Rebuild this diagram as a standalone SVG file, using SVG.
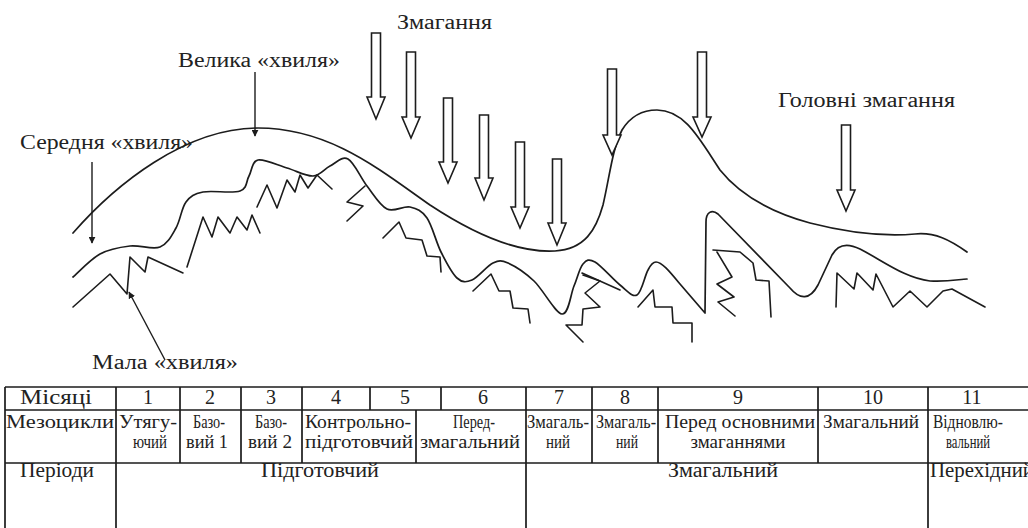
<svg xmlns="http://www.w3.org/2000/svg" width="1028" height="528" viewBox="0 0 1028 528">
<style>
.t{font-family:"Liberation Serif","DejaVu Serif",serif;fill:#222}
.lb{font-size:20px}
.r1{font-size:20px;text-anchor:middle}
.r2{font-size:19px;text-anchor:middle}
.r3{font-size:20px;text-anchor:middle}
.w{fill:none;stroke:#1c1c1c;stroke-width:1.7;stroke-linejoin:round;stroke-linecap:round}
.z{fill:none;stroke:#1c1c1c;stroke-width:1.6;stroke-linejoin:round;stroke-linecap:round}
.ba{fill:#fff;stroke:#1c1c1c;stroke-width:1.6;stroke-linejoin:miter}
.ln{fill:none;stroke:#1c1c1c;stroke-width:1.4}
.tb{fill:none;stroke:#1c1c1c;stroke-width:1.7}
</style>
<defs>
<marker id="ah" viewBox="0 0 10 10" refX="9" refY="5" markerWidth="7" markerHeight="7" markerUnits="userSpaceOnUse" orient="auto">
<path d="M0,0 L10,5 L0,10 Z" fill="#1c1c1c"/>
</marker>
</defs>
<rect width="1028" height="528" fill="#fff"/>

<g id="labels">
<text class="t lb" x="397" y="29" textLength="95" lengthAdjust="spacingAndGlyphs">Змагання</text>
<text class="t lb" x="178" y="67" textLength="162" lengthAdjust="spacingAndGlyphs">Велика «хвиля»</text>
<text class="t lb" x="20" y="149" textLength="173" lengthAdjust="spacingAndGlyphs">Середня «хвиля»</text>
<text class="t lb" x="778" y="107" textLength="177" lengthAdjust="spacingAndGlyphs">Головні змагання</text>
<text class="t lb" x="92" y="369" textLength="146" lengthAdjust="spacingAndGlyphs">Мала «хвиля»</text>
</g>

<g id="big-wave">
<path class="w" d="M73,233 C115,185 185,128 258,128 C330,128 380,170 430,205 C480,238 520,253 555,251 C585,249 596,230 603,205 C610,175 612,150 622,130 C630,117 642,110 657,110 C685,110 700,140 720,170 C740,195 770,212 810,223 C845,232 880,237 915,234 C935,232 950,240 967,252"/>
</g>

<g id="middle-wave">
<path class="w" d="M73,277 C77.5,273.2 90.5,259.2 100,254 C109.5,248.8 120,247.2 130,246 C140,244.8 152.3,250 160,247 C167.7,244 171.7,235.5 176,228 C180.3,220.5 181.5,208 186,202 C190.5,196 194,193.8 203,192 C212,190.2 232.3,193.7 240,191 C247.7,188.3 246,181.2 249,176 C252,170.8 251.7,161.3 258,160 C264.3,158.7 277.8,165.3 287,168 C296.2,170.7 305.8,176.3 313,176 C320.2,175.7 324.2,168.8 330,166 C335.8,163.2 341.8,155.7 348,159 C354.2,162.3 360.5,177.7 367,186 C373.5,194.3 379.8,205.5 387,209 C394.2,212.5 403.3,205.5 410,207 C416.7,208.5 421.8,210.5 427,218 C432.2,225.5 436,242 441,252 C446,262 451.8,273.3 457,278 C462.2,282.7 466,282.5 472,280 C478,277.5 487,265.8 493,263 C499,260.2 501.2,260 508,263 C514.8,266 525,272.5 534,281 C543,289.5 555.3,313.2 562,314 C568.7,314.8 570.5,294.3 574,286 C577.5,277.7 579.5,268 583,264 C586.5,260 588.8,258.5 595,262 C601.2,265.5 613,279.5 620,285 C627,290.5 632.3,297.5 637,295 C641.7,292.5 644.8,275.5 648,270 C651,264 653,262 656,262 C662,262 670,272 680,284 L705,313 L706,222 C706,212 712,209 718,214 L790,288 C800,300 810,300 818,285 L832,255 C838,244 848,243 860,249 C885,262 905,278 930,281 C950,282 960,279 967,279"/>
</g>

<g id="small-wave">
<polyline class="z" points="73,307 110,274 127,294 130,257 145,272 148,257 183,273"/>
<polyline class="z" points="187,267 203,217 212,237 218,217 230,233 237,217 247,230 252,215 260,233"/>
<polyline class="z" points="257,207 267,185 277,208 287,180 295,192 300,175 308,188 317,175 332,189"/>
<polyline class="z" points="365,186 347,202 363,206 347,221"/>
<polyline class="z" points="383,238 399,222 406,238 422,240 427,256 440,257 441,272"/>
<polyline class="z" points="473,291 491,274 499,291 510,291 513,308 528,309 530,323"/>
<polyline class="z" points="582,273 620,290"/>
<polyline class="z" points="583,275 600,281 585,293 600,307 583,309 582,325 566,325 583,342"/>
<polyline class="z" points="638,307 653,290 655,307 672,307 673,323 692,323 692,342"/>
<polyline class="z" points="713,250 740,252 753,263 756,280 769,281 771,317"/>
<polyline class="z" points="717,252 732,277 717,284 734,297 718,302 735,316"/>
<polyline class="z" points="836,307 837,273 854,289 857,273 873,290 876,274 893,307 910,291 927,307 943,291 952,289 985,307"/>
</g>

<g id="competition-arrows">
<path class="ba" d="M371.5,33 H380.5 V97 H385 L376,119 L367,97 H371.5 Z"/>
<path class="ba" d="M406.5,52 H415.5 V117 H420 L411,138 L402,117 H406.5 Z"/>
<path class="ba" d="M443.5,98 H452.5 V162 H457 L448,183 L439,162 H443.5 Z"/>
<path class="ba" d="M479.5,115 H488.5 V178 H493 L484,200 L475,178 H479.5 Z"/>
<path class="ba" d="M515.5,142 H524.5 V207 H529 L520,228 L511,207 H515.5 Z"/>
<path class="ba" d="M552.5,159 H561.5 V223 H566 L557,245 L548,223 H552.5 Z"/>
<path class="ba" d="M607.5,69 H616.5 V135 H621 L612,155 L603,135 H607.5 Z"/>
<path class="ba" d="M697.5,52 H706.5 V117 H711 L702,137 L693,117 H697.5 Z"/>
<path class="ba" d="M841.5,125 H850.5 V190 H855 L846,211 L837,190 H841.5 Z"/>
</g>

<g id="connectors">
<line class="ln" x1="255" y1="72" x2="255" y2="136" marker-end="url(#ah)"/>
<line class="ln" x1="92" y1="162" x2="92" y2="243" marker-end="url(#ah)"/>
<line class="ln" x1="165" y1="360" x2="129" y2="292" marker-end="url(#ah)"/>
</g>

<g id="table">
<path class="tb" d="M5,387 H1030 M5,410 H1030 M5,463 H1030 M5,387 V528"/>
<path class="tb" d="M116,387 V528 M180,387 V463 M241,387 V463 M302,387 V463 M370,387 V410 M416,410 V463 M441,387 V410 M526,387 V528 M592,387 V463 M658,387 V463 M818,387 V463 M928,387 V528"/>
<g id="row-months">
<text class="t r1" x="56" y="404" textLength="72" lengthAdjust="spacingAndGlyphs">Місяці</text>
<text class="t r1" x="148" y="404">1</text>
<text class="t r1" x="210" y="404">2</text>
<text class="t r1" x="271" y="404">3</text>
<text class="t r1" x="336" y="404">4</text>
<text class="t r1" x="405" y="404">5</text>
<text class="t r1" x="483" y="404">6</text>
<text class="t r1" x="559" y="404">7</text>
<text class="t r1" x="625" y="404">8</text>
<text class="t r1" x="738" y="404">9</text>
<text class="t r1" x="873" y="404">10</text>
<text class="t r1" x="972" y="404">11</text>
</g>
<g id="row-mesocycles">
<text class="t r2" x="60" y="428" textLength="108" lengthAdjust="spacingAndGlyphs">Мезоцикли</text>
<text class="t r2" x="148" y="428" textLength="58" lengthAdjust="spacingAndGlyphs">Утягу-</text>
<text class="t r2" x="150" y="448" textLength="34" lengthAdjust="spacingAndGlyphs">ючий</text>
<text class="t r2" x="209" y="428" textLength="32" lengthAdjust="spacingAndGlyphs">Базо-</text>
<text class="t r2" x="207" y="448" textLength="42" lengthAdjust="spacingAndGlyphs">вий 1</text>
<text class="t r2" x="271" y="428" textLength="32" lengthAdjust="spacingAndGlyphs">Базо-</text>
<text class="t r2" x="270" y="448" textLength="44" lengthAdjust="spacingAndGlyphs">вий 2</text>
<text class="t r2" x="358" y="428" textLength="106" lengthAdjust="spacingAndGlyphs">Контрольно-</text>
<text class="t r2" x="359" y="448" textLength="108" lengthAdjust="spacingAndGlyphs">підготовчий</text>
<text class="t r2" x="474" y="428" textLength="42" lengthAdjust="spacingAndGlyphs">Перед-</text>
<text class="t r2" x="470" y="448" textLength="100" lengthAdjust="spacingAndGlyphs">змагальний</text>
<text class="t r2" x="558" y="428" textLength="62" lengthAdjust="spacingAndGlyphs">Змагаль-</text>
<text class="t r2" x="558" y="448" textLength="24" lengthAdjust="spacingAndGlyphs">ний</text>
<text class="t r2" x="626" y="428" textLength="60" lengthAdjust="spacingAndGlyphs">Змагаль-</text>
<text class="t r2" x="627" y="448" textLength="22" lengthAdjust="spacingAndGlyphs">ний</text>
<text class="t r2" x="740" y="428" textLength="150" lengthAdjust="spacingAndGlyphs">Перед основними</text>
<text class="t r2" x="738" y="448" textLength="95" lengthAdjust="spacingAndGlyphs">змаганнями</text>
<text class="t r2" x="871" y="428" textLength="96" lengthAdjust="spacingAndGlyphs">Змагальний</text>
<text class="t r2" x="968" y="428" textLength="70" lengthAdjust="spacingAndGlyphs">Відновлю-</text>
<text class="t r2" x="968" y="448" textLength="44" lengthAdjust="spacingAndGlyphs">вальний</text>
</g>
<g id="row-periods">
<text class="t r3" x="57" y="477" textLength="74" lengthAdjust="spacingAndGlyphs">Періоди</text>
<text class="t r3" x="320" y="477" textLength="118" lengthAdjust="spacingAndGlyphs">Підготовчий</text>
<text class="t r3" x="723" y="477" textLength="110" lengthAdjust="spacingAndGlyphs">Змагальний</text>
<text class="t" x="930" y="477" font-size="20" textLength="104" lengthAdjust="spacingAndGlyphs">Перехідний</text>
</g>
</g>
</svg>
